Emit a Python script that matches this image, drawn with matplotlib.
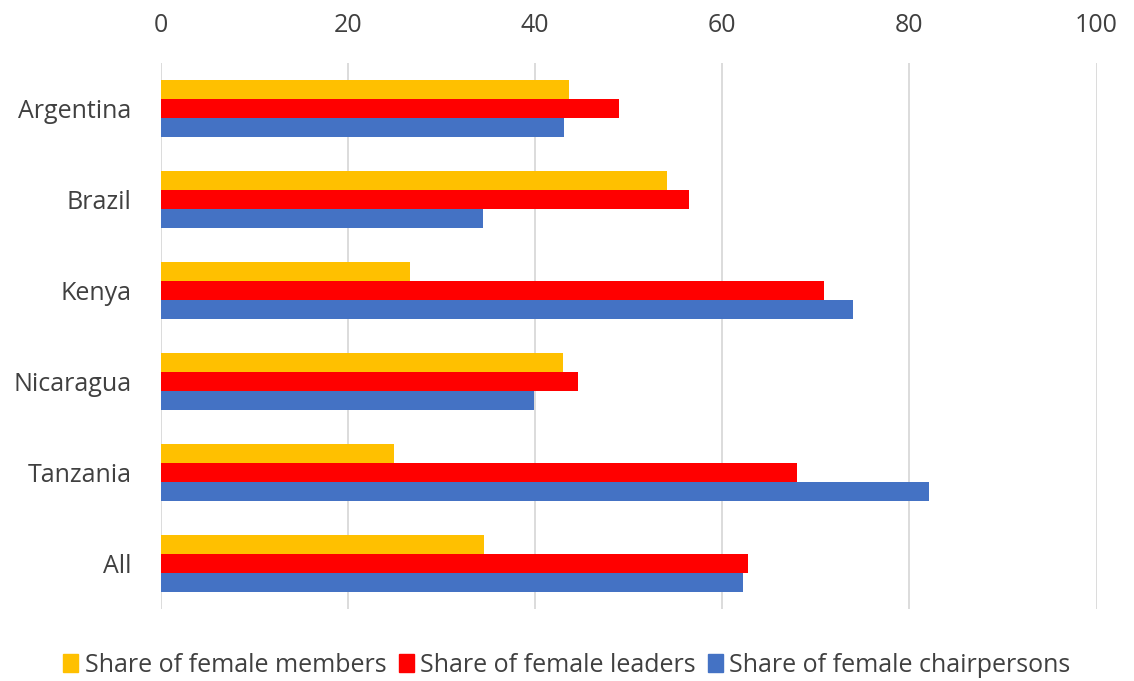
import numpy as np
from matplotlib import pyplot as plt
from matplotlib.patches import Patch

countries = ["Argentina", "Brazil", "Kenya", "Nicaragua", "Tanzania", "All"]
members = [43.6, 54.1, 26.6, 43.0, 24.9, 34.5]
leaders = [49.0, 56.5, 70.9, 44.6, 68.0, 62.8]
chairpersons = [43.1, 34.4, 74.0, 39.9, 82.1, 62.2]
series_names = ["Share of female members", "Share of female leaders", "Share of female chairpersons"]
colors = ["#FFC000", "#FF0000", "#4472C4"]


def main():
    plt.rcParams["font.family"] = ["Open Sans", "DejaVu Sans"]
    fig = plt.figure(figsize=(11.34, 6.81), dpi=100)
    ax = fig.add_axes([0.1417, 0.1057, 0.8253, 0.8018])

    y = np.arange(len(countries))
    h = 0.207
    for i, vals in enumerate([members, leaders, chairpersons]):
        ax.barh(y + (i - 1) * h, vals, height=h, color=colors[i], zorder=2)

    ax.set_xlim(0, 100)
    ax.set_ylim(len(countries) - 0.5, -0.5)
    ax.set_xticks(range(0, 101, 20))
    ax.set_yticks(y)
    ax.set_yticklabels(countries)
    ax.xaxis.tick_top()
    ax.tick_params(axis="both", length=0, labelsize=18, colors="#404040")
    ax.tick_params(axis="x", pad=18)
    ax.tick_params(axis="y", pad=21)
    ax.grid(axis="x", color="#D9D9D9", linewidth=1.3, zorder=0)
    for s in ax.spines.values():
        s.set_visible(False)

    handles = [Patch(color=c) for c in colors]
    fig.legend(handles, series_names, loc="center", bbox_to_anchor=(0.5, 0.023),
               ncol=3, frameon=False, fontsize=18, handlelength=0.6, handleheight=0.7,
               handletextpad=0.25, columnspacing=0.5, labelcolor="#404040")

    fig.savefig("out.png", dpi=100)


if __name__ == "__main__":
    main()
